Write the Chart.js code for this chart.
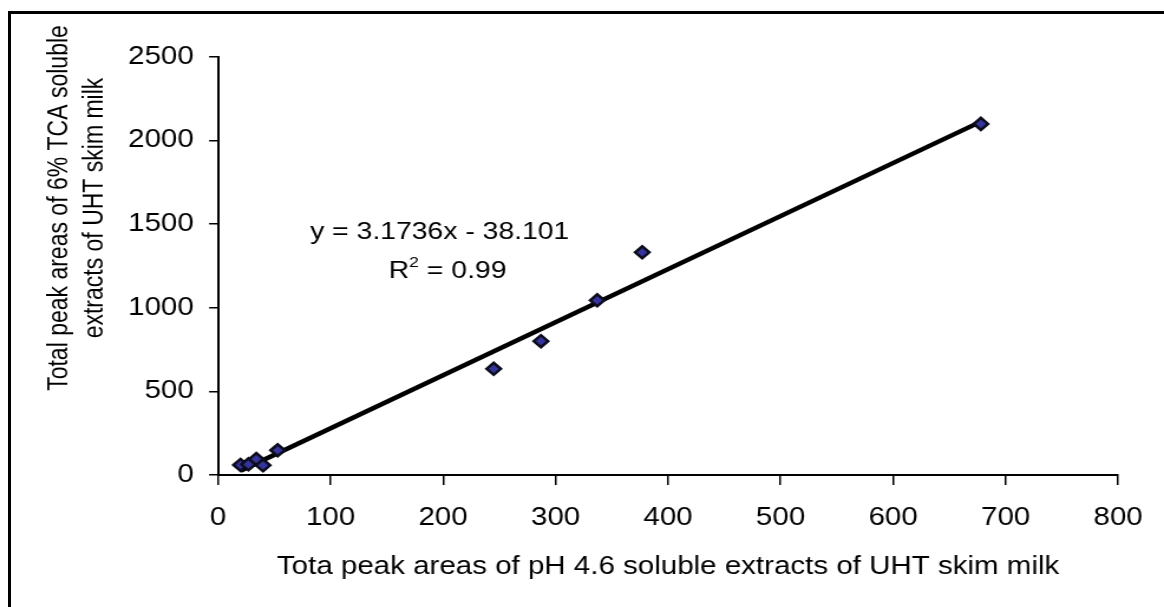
<!DOCTYPE html>
<html>
<head>
<meta charset="utf-8">
<script src="https://cdn.jsdelivr.net/npm/chart.js@4.4.1/dist/chart.umd.min.js"></script>
<style>
    html, body { margin: 0; padding: 0; background: #fff; overflow: hidden; }
    #wrap { position: absolute; left: 0; top: 0; width: 1164px; height: 607px; overflow: hidden; }
    /* the source picture is stretched sideways, so the canvas is too */
    #chart { position: absolute; left: 0; top: 0; transform-origin: 0 0; transform: scaleX(1.18053); }
    .frame { position: absolute; left: 8px; top: 11px; width: 1200px; height: 650px;
             border-left: 3px solid #000; border-top: 3px solid #000; }
</style>
</head>
<body>
<div id="wrap">
    <canvas id="chart" width="986" height="607"></canvas>
    <div class="frame"></div>
</div>
<script>
// Dados
const ph46Areas = [20, 27, 34, 40, 53, 245, 287, 337, 377, 678];
const tcaAreas = [60, 64, 95, 58, 148, 635, 800, 1045, 1332, 2100];
const xTicks = [0, 100, 200, 300, 400, 500, 600, 700, 800];
const yTicks = [0, 500, 1000, 1500, 2000, 2500];

// Linha de tendência (Excel)
const trendSlope = 3.1736;
const trendIntercept = -38.101;
const equationText = 'y = 3.1736x - 38.101';
const r2Value = '0.99';
const equationAt = [197, 1450];
const r2At = [204, 1217];

const xTitle = 'Tota peak areas of pH 4.6 soluble extracts of UHT skim milk';
const yTitle = ['Total peak areas of 6% TCA soluble', 'extracts of UHT skim milk'];

const FONT = '"Liberation Sans", Arial, sans-serif';

const points = ph46Areas.map((v, i) => ({ x: v, y: tcaAreas[i] }));
const xMin = Math.min(...ph46Areas);
const xMax = Math.max(...ph46Areas);
const trend = [
    { x: xMin, y: trendSlope * xMin + trendIntercept },
    { x: xMax, y: trendSlope * xMax + trendIntercept }
];

// Textos extras: título do eixo y e equação
const textPlugin = {
    id: 'texts',
    afterDraw(chart) {
        const ctx = chart.ctx;
        const x = chart.scales.x;
        const y = chart.scales.y;
        ctx.save();
        ctx.fillStyle = '#000';
        ctx.textBaseline = 'middle';

        // título do eixo y
        ctx.font = '23px ' + FONT;
        ctx.textAlign = 'center';
        [50.8, 80.5].forEach((px, i) => {
            ctx.save();
            ctx.translate(px, 208);
            ctx.rotate(-Math.PI / 2);
            ctx.fillText(yTitle[i], 0, 0);
            ctx.restore();
        });

        // equação
        ctx.font = '24px ' + FONT;
        ctx.fillText(equationText, x.getPixelForValue(equationAt[0]), y.getPixelForValue(equationAt[1]));

        // R²
        const rest = ' = ' + r2Value;
        ctx.font = '24px ' + FONT;
        const wR = ctx.measureText('R').width;
        const wRest = ctx.measureText(rest).width;
        ctx.font = '15px ' + FONT;
        const w2 = ctx.measureText('2').width;
        const total = wR + w2 + wRest;
        let sx = x.getPixelForValue(r2At[0]) - total / 2;
        const sy = y.getPixelForValue(r2At[1]);
        ctx.textAlign = 'left';
        ctx.font = '24px ' + FONT;
        ctx.fillText('R', sx, sy);
        ctx.font = '15px ' + FONT;
        ctx.fillText('2', sx + wR, sy - 9);
        ctx.font = '24px ' + FONT;
        ctx.fillText(rest, sx + wR + w2, sy);
        ctx.restore();
    }
};

const ctx = document.getElementById('chart').getContext('2d');
new Chart(ctx, {
    type: 'scatter',
    data: {
        datasets: [
            {
                data: points,
                pointStyle: 'rectRot',
                pointRadius: 6,
                backgroundColor: '#34349c',
                borderColor: '#0c0c1c',
                borderWidth: 2.5,
                order: 0
            },
            {
                data: trend,
                showLine: true,
                borderColor: '#000',
                borderWidth: 4.5,
                pointRadius: 0,
                order: 1
            }
        ]
    },
    options: {
        responsive: false,
        animation: false,
        layout: { padding: { left: 0, top: 57, right: 28.8, bottom: 0 } },
        plugins: {
            legend: { display: false },
            tooltip: { enabled: false }
        },
        scales: {
            x: {
                type: 'linear',
                min: 0,
                max: 800,
                afterBuildTicks: s => { s.ticks = xTicks.map(v => ({ value: v })); },
                afterFit: s => { s.height = 132; },
                ticks: { color: '#000', font: { family: FONT, size: 25 }, padding: 18, callback: v => String(v) },
                grid: { drawOnChartArea: false, tickLength: 10, color: '#000', lineWidth: 1.5 },
                border: { color: '#000', width: 2 },
                title: {
                    display: true,
                    text: xTitle,
                    color: '#000',
                    font: { family: FONT, size: 25 },
                    padding: { top: 0, bottom: 25 }
                }
            },
            y: {
                type: 'linear',
                min: 0,
                max: 2500,
                afterBuildTicks: s => { s.ticks = yTicks.map(v => ({ value: v })); },
                afterFit: s => { s.width = 184.7; },
                ticks: { color: '#000', font: { family: FONT, size: 25 }, padding: 13, callback: v => String(v) },
                grid: { drawOnChartArea: false, tickLength: 7.6, color: '#000', lineWidth: 1.5 },
                border: { color: '#000', width: 2 }
            }
        }
    },
    plugins: [textPlugin]
});
</script>
</body>
</html>
